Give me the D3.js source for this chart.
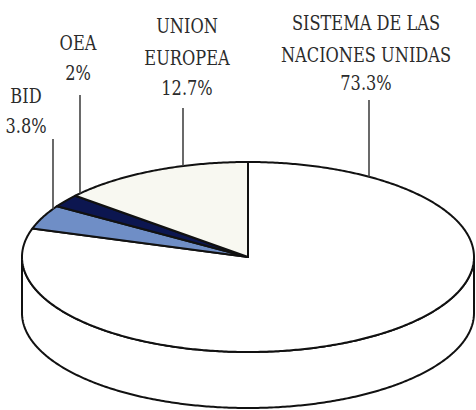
<!DOCTYPE html>
<html>
<head>
<meta charset="utf-8">
<script src="https://cdn.jsdelivr.net/npm/d3@7"></script>
<style>
  html, body { margin: 0; padding: 0; background: #fff; }
  svg { display: block; }
  .lbl { font-family: "DejaVu Serif", serif; font-size: 20px; fill: #2b2b2b; }
</style>
</head>
<body>
<svg id="chart" width="476" height="410"></svg>
<script>
// ---- data ----
const categories = ["SISTEMA DE LAS NACIONES UNIDAS", "BID", "OEA", "UNION EUROPEA"];
const values = [73.3, 3.8, 2, 12.7];
const valueLabels = ["73.3%", "3.8%", "2%", "12.7%"];

// ---- styling / layout ----
const colors = ["#ffffff", "#6f8ec6", "#0c1650", "#f8f8f1"];
const labelLines = [["SISTEMA DE LAS", "NACIONES UNIDAS"], ["BID"], ["OEA"], ["UNION", "EUROPEA"]];
const labelLayout = [
  { x: 366, baselines: [30, 62, 90], lineX: 369, lineTop: 100 },
  { x: 26, baselines: [103, 133], lineX: 53, lineTop: 139 },
  { x: 78, baselines: [50, 80], lineX: 80, lineTop: 95 },
  { x: 187, baselines: [33, 65, 95], lineX: 183, lineTop: 108 }
];

const cx = 248, cy = 257, rx = 226, ry = 95, depth = 56;
const svg = d3.select("#chart");

const pie = d3.pie().sort(null).value(d => d).startAngle(0).endAngle(2 * Math.PI);
const arcs = pie(values);

const pt = (a, dy = 0) => [cx + rx * Math.sin(a), cy - ry * Math.cos(a) + dy];
function arcPoints(a0, a1, dy = 0) {
  const n = Math.max(2, Math.ceil(Math.abs(a1 - a0) / 0.01));
  return d3.range(n + 1).map(i => pt(a0 + (a1 - a0) * i / n, dy));
}
const line = d3.line();

// side walls (front half: angles between PI/2 and 3PI/2)
const sideG = svg.append("g");
arcs.forEach((d, i) => {
  const a0 = Math.max(d.startAngle, Math.PI / 2);
  const a1 = Math.min(d.endAngle, 3 * Math.PI / 2);
  if (a1 <= a0) return;
  const top = arcPoints(a0, a1, 0);
  const bottom = arcPoints(a1, a0, depth);
  sideG.append("path")
    .attr("d", line(top.concat(bottom)) + "Z")
    .attr("fill", colors[i])
    .attr("stroke", "#111")
    .attr("stroke-width", 2)
    .attr("stroke-linejoin", "round");
});

// top faces
const topG = svg.append("g");
arcs.forEach((d, i) => {
  const pts = [[cx, cy]].concat(arcPoints(d.startAngle, d.endAngle, 0));
  topG.append("path")
    .attr("d", line(pts) + "Z")
    .attr("fill", colors[i])
    .attr("stroke", "#111")
    .attr("stroke-width", 2)
    .attr("stroke-linejoin", "round");
});

// leader lines + labels
const ellipseTopY = x => cy - ry * Math.sqrt(Math.max(0, 1 - ((x - cx) / rx) ** 2));
const labG = svg.append("g");
labelLayout.forEach((L, i) => {
  labG.append("line")
    .attr("x1", L.lineX).attr("x2", L.lineX)
    .attr("y1", L.lineTop).attr("y2", ellipseTopY(L.lineX))
    .attr("stroke", "#444").attr("stroke-width", 1.6);
  const lines = labelLines[i].concat([valueLabels[i]]);
  lines.forEach((t, j) => {
    labG.append("text")
      .attr("class", "lbl")
      .attr("transform", `translate(${L.x},${L.baselines[j]}) scale(0.81,1)`)
      .attr("text-anchor", "middle")
      .text(t);
  });
});
</script>
</body>
</html>
